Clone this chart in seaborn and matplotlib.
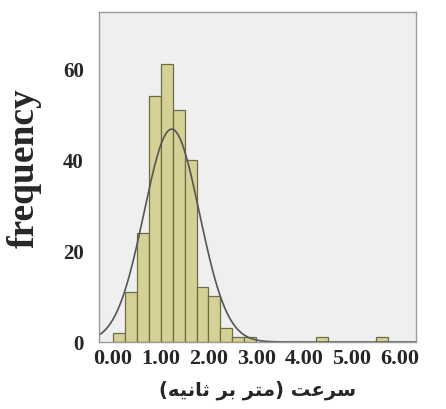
import numpy as np
import pandas as pd
import matplotlib
matplotlib.use("Agg")
import matplotlib.pyplot as plt
import seaborn as sns

# ---- data ----
bin_width = 0.25
bin_starts = [0.00, 0.25, 0.50, 0.75, 1.00, 1.25, 1.50, 1.75, 2.00, 2.25,
              2.50, 2.75, 3.00, 3.25, 3.50, 3.75, 4.00, 4.25, 4.50, 4.75,
              5.00, 5.25, 5.50, 5.75]
counts = [2, 11, 24, 54, 61, 51, 40, 12, 10, 3,
          1, 1, 0, 0, 0, 0, 0, 1, 0, 0,
          0, 0, 1, 0]
fit_mean = 1.23
fit_sd = 0.58
x_ticks = [0, 1, 2, 3, 4, 5, 6]
x_tick_labels = ["0.00", "1.00", "2.00", "3.00", "4.00", "5.00", "6.00"]
y_ticks = [0, 20, 40, 60]
y_tick_labels = ["0", "20", "40", "60"]
y_label = "frequency"
# "سرعت (متر بر ثانیه)" as shaped presentation forms in visual (left-to-right) order
x_label = "(\uFEEA\uFEF4\uFEE7\uFE8E\uFE9B \uFEAE\uFE91 \uFEAE\uFE98\uFEE3) \uFE96\uFECB\uFEAE\uFEB3"

df = pd.DataFrame({"speed": np.array(bin_starts) + bin_width / 2,
                   "count": counts})
edges = list(bin_starts) + [bin_starts[-1] + bin_width]

sns.set_theme(style="white")
plt.rcParams["font.family"] = ["Liberation Serif", "DejaVu Sans"]

fig = plt.figure(figsize=(4.46, 4.10), dpi=100)
ax = fig.add_axes([99 / 446, 1 - 343 / 410, (416 - 99) / 446, (343 - 13) / 410])
ax.set_facecolor("#efeff0")

sns.histplot(data=df, x="speed", weights="count", bins=edges, ax=ax,
             color="#d5d196", edgecolor="#6e6d40", linewidth=0.9, alpha=1.0)
for p in ax.patches:
    if p.get_height() == 0:
        p.set_visible(False)

xmin, xmax = -0.29, 6.34
total = sum(counts)
xs = np.linspace(xmin, xmax, 400)
ys = total * bin_width * np.exp(-0.5 * ((xs - fit_mean) / fit_sd) ** 2) / (fit_sd * np.sqrt(2 * np.pi))
sns.lineplot(x=xs, y=ys, ax=ax, color="#555555", linewidth=1.2)

ax.set_xlim(xmin, xmax)
ax.set_ylim(0, 72.5)
ax.set_xticks(x_ticks)
ax.set_xticklabels(x_tick_labels, fontsize=16, fontweight="bold", family="Liberation Serif")
ax.set_yticks(y_ticks)
ax.set_yticklabels(y_tick_labels, fontsize=15, fontweight="bold", family="Liberation Serif")
ax.tick_params(axis="x", direction="inout", length=7, width=0.8, color="#555555", pad=1)
ax.tick_params(axis="y", direction="out", length=5, width=0.8, color="#888888", pad=6)
for s in ax.spines.values():
    s.set_color("#9a9a9a")
    s.set_linewidth(1.0)

ax.set_ylabel(y_label, fontsize=27, fontweight="bold", family="Liberation Serif")
ax.yaxis.set_label_coords(-0.18, 0.53)
ax.set_xlabel(x_label, fontsize=14, fontweight="bold", family=["DejaVu Sans"], labelpad=8)

fig.savefig("out.png", dpi=100)
